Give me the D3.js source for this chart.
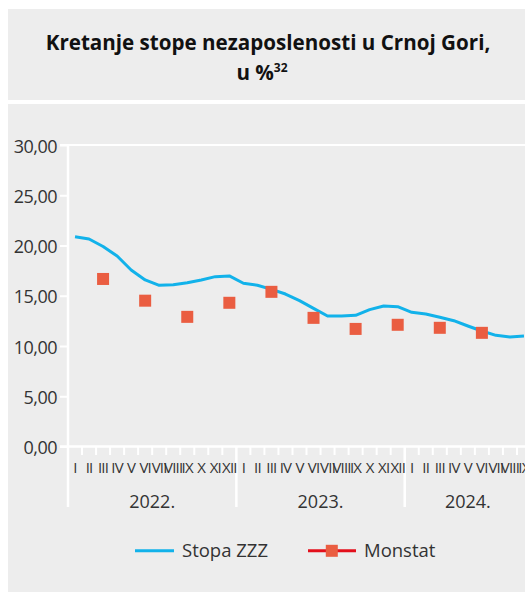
<!DOCTYPE html>
<html><head><meta charset="utf-8">
<script src="https://cdn.jsdelivr.net/npm/d3@7"></script>
<style>
html,body{margin:0;padding:0;background:#fff;}
svg{display:block;font-family:"Open Sans",sans-serif;}
</style></head>
<body>
<svg id="c" width="525" height="598"></svg>
<script>
const titleLine1 = "Kretanje stope nezaposlenosti u Crnoj Gori,";
const titleLine2 = "u %";
const titleSup = "32";
const monthLabels = ["I","II","III","IV","V","VI","VII","VIII","IX","X","XI","XII"];
const years = ["2022.","2023.","2024."];
const monthsPerYear = [12,12,9];
const yTicks = [0,5,10,15,20,25,30];
const stopaZZZ = [20.88,20.65,19.9,18.95,17.56,16.57,16.04,16.1,16.3,16.57,16.9,16.97,
  16.24,16.04,15.64,15.17,14.51,13.75,12.99,12.99,13.05,13.62,13.98,13.91,
  13.35,13.18,12.86,12.52,11.99,11.49,11.06,10.9,10.99];
const monstatIdx = [2,5,8,11,14,17,20,23,26,29];
const monstat = [16.67,14.51,12.9,14.3,15.39,12.8,11.7,12.11,11.81,11.31];
const seriesNames = ["Stopa ZZZ","Monstat"];

const blue = "#12b2ea", red = "#e30f1b", sq = "#ea5d41", txt = "#333", panel = "#ededed";

const svg = d3.select("#c");
svg.append("rect").attr("x",8).attr("y",9).attr("width",517).attr("height",91).attr("fill",panel);
svg.append("rect").attr("x",8).attr("y",104).attr("width",517).attr("height",488).attr("fill",panel);

const t = svg.append("text").attr("text-anchor","middle").attr("font-weight","bold").attr("font-size",20.6).attr("fill","#111");
t.append("tspan").attr("x",268).attr("y",50).text(titleLine1);
const t2 = svg.append("text").attr("text-anchor","middle").attr("font-weight","bold").attr("font-size",20.6).attr("fill","#111").attr("x",262).attr("y",80);
t2.append("tspan").text(titleLine2);
t2.append("tspan").attr("font-size",12).attr("dy",-8).text(titleSup);

// months flattened
const monthsAll = [];
years.forEach((y,i)=>{ for(let m=0;m<monthsPerYear[i];m++) monthsAll.push({year:y, m:monthLabels[m], idx:monthsAll.length}); });

const x = d3.scaleBand().domain(monthsAll.map(d=>d.idx)).range([68, 68+33*14.03]).padding(0);
const y = d3.scaleLinear().domain([0,30]).range([446.5,145]);

const loc = d3.formatLocale({decimal:",",thousands:".",grouping:[3],currency:["","€"]});
const fmt = loc.format(".2f");

// y axis
const ya = svg.append("g").attr("transform","translate(68,0)")
  .call(d3.axisLeft(y).tickValues(yTicks).tickFormat(fmt).tickSize(8).tickPadding(3));
ya.select(".domain").remove();
ya.selectAll(".tick line").attr("stroke","#fff").attr("stroke-width",2);
ya.selectAll(".tick text").attr("fill",txt).attr("font-size",18).attr("font-family","Open Sans").attr("dy","0.4em").attr("letter-spacing",-0.5);

// frame lines
svg.append("line").attr("x1",60).attr("x2",525).attr("y1",y(30)).attr("y2",y(30)).attr("stroke","#fff").attr("stroke-width",2);
svg.append("line").attr("x1",60).attr("x2",525).attr("y1",y(0)).attr("y2",y(0)).attr("stroke","#fff").attr("stroke-width",2.5);
svg.append("line").attr("x1",68).attr("x2",68).attr("y1",y(30)).attr("y2",507).attr("stroke","#fff").attr("stroke-width",2.5);

// month ticks and labels
const gx = svg.append("g");
monthsAll.forEach(d=>{
  const x0 = x(d.idx), x1 = x0 + x.bandwidth();
  const isYearEnd = (d.m === monthLabels[monthsPerYear[years.indexOf(d.year)]-1]);
  if(!isYearEnd){
    gx.append("line").attr("x1",x1).attr("x2",x1).attr("y1",y(0)).attr("y2",455).attr("stroke","#fff").attr("stroke-width",2);
  } else {
    gx.append("line").attr("x1",x1).attr("x2",x1).attr("y1",y(0)).attr("y2",507).attr("stroke","#fff").attr("stroke-width",2.5);
  }
  gx.append("text").attr("x",x0+x.bandwidth()/2).attr("y",473).attr("text-anchor","middle")
    .attr("font-size",15).attr("fill",txt).attr("letter-spacing",-0.8).text(d.m);
});
// year labels
let start = 0;
years.forEach((yr,i)=>{
  const first = start, last = start+monthsPerYear[i]-1;
  const cx = (x(first) + x(last)+x.bandwidth())/2;
  gx.append("text").attr("x",cx).attr("y",508).attr("text-anchor","middle").attr("font-size",18).attr("fill",txt).text(yr);
  start += monthsPerYear[i];
});

// line
const line = d3.line().x((d,i)=>x(i)+x.bandwidth()/2).y(d=>y(d));
svg.append("path").datum(stopaZZZ).attr("d",line).attr("fill","none").attr("stroke",blue).attr("stroke-width",3).attr("stroke-linejoin","round");

// squares
svg.selectAll("rect.m").data(monstat).enter().append("rect").attr("class","m")
  .attr("x",(d,i)=>x(monstatIdx[i])+x.bandwidth()/2-6).attr("y",d=>y(d)-6)
  .attr("width",12).attr("height",12).attr("fill",sq);

// legend
const lg = svg.append("g");
lg.append("line").attr("x1",135).attr("x2",174).attr("y1",550.7).attr("y2",550.7).attr("stroke",blue).attr("stroke-width",3);
lg.append("text").attr("x",182).attr("y",557).attr("font-size",18.5).attr("fill",txt).text(seriesNames[0]);
lg.append("line").attr("x1",308).attr("x2",356).attr("y1",550.7).attr("y2",550.7).attr("stroke",red).attr("stroke-width",3);
lg.append("rect").attr("x",325.8).attr("y",544.8).attr("width",12).attr("height",12).attr("fill",sq);
lg.append("text").attr("x",364).attr("y",557).attr("font-size",18.5).attr("fill",txt).text(seriesNames[1]);
</script>
</body></html>
